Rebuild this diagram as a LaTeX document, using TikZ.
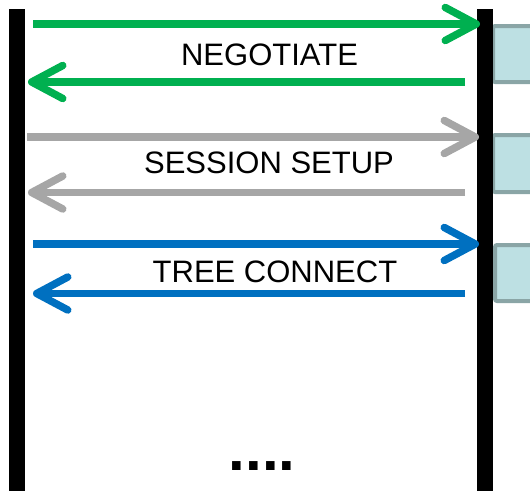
\documentclass[tikz,border=0pt]{standalone}
\usepackage{fontspec}
\setmainfont{Liberation Sans}
\usetikzlibrary{arrows.meta}
\definecolor{msggreen}{HTML}{00B050}
\definecolor{msggrey}{HTML}{A6A6A6}
\definecolor{msgblue}{HTML}{0070C0}
\definecolor{boxfill}{HTML}{BDE0E3}
\definecolor{boxline}{HTML}{8AA5A6}
\tikzset{
  lifeline/.style={line width=16pt, black},
  msg/.style={line width=7.5pt, -{Straight Barb[length=31pt,width=33pt,round]}},
  lbl/.style={anchor=base, inner sep=0pt, font=\fontsize{31pt}{32pt}\selectfont},
  statebox/.style={draw=boxline, fill=boxfill, line width=4pt, rounded corners=2pt},
}
\begin{document}
\begin{tikzpicture}[x=1pt,y=-1pt]
\useasboundingbox (0,0) rectangle (530,490);
\clip (0,0) rectangle (530,490);

% lifelines
\coordinate (lt) at (17,9);
\coordinate (lb) at (17,495);
\coordinate (rt) at (485,9);
\coordinate (rb) at (485,495);
\draw[lifeline] (lt) -- (lb);

% state boxes on the server side
\draw[statebox] (493,26) rectangle (560,82);
\draw[statebox] (493,135) rectangle (560,192);
\draw[statebox] (495,245) rectangle (560,301);

\draw[lifeline] (rt) -- (rb);

% message end points
\coordinate (g1s) at (33,24);   \coordinate (g1e) at (480,24);
\coordinate (g2s) at (465,82);  \coordinate (g2e) at (28,82);
\coordinate (s1s) at (27,137);  \coordinate (s1e) at (479,137);
\coordinate (s2s) at (465,192.5); \coordinate (s2e) at (28,192.5);
\coordinate (t1s) at (33,244);  \coordinate (t1e) at (479,244);
\coordinate (t2s) at (465,293.5); \coordinate (t2e) at (33,293.5);

% messages
\draw[msg, msggreen] (g1s) -- (g1e);
\draw[msg, msggreen] (g2s) -- (g2e);
\draw[msg, msggrey] (s1s) -- (s1e);
\draw[msg, msggrey] (s2s) -- (s2e);
\draw[msg, msgblue] (t1s) -- (t1e);
\draw[msg, msgblue] (t2s) -- (t2e);

% labels
\node[lbl] (neg) at (269.5,65) {NEGOTIATE};
\node[lbl] (ses) at (269,173) {SESSION SETUP};
\node[lbl] (tree) at (275,282) {TREE CONNECT};

% continuation
\node[inner sep=0pt, anchor=base, font=\bfseries\fontsize{60pt}{60pt}\selectfont] (more) at (262,470) {....};
\end{tikzpicture}
\end{document}
